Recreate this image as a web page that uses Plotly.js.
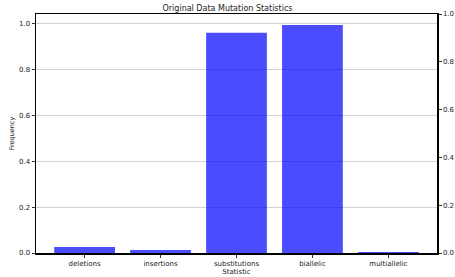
<!DOCTYPE html>
<html><head><meta charset="utf-8">
<script src="https://cdn.plot.ly/plotly-3.0.1.min.js"></script>
<style>html,body{margin:0;padding:0;background:#fff}#c{width:455px;height:277px}</style>
</head><body><div id="c"></div>
<script>
const categories = ["deletions","insertions","substitutions","biallelic","multiallelic"];
const frequencies = [0.026, 0.013, 0.959, 0.993, 0.004];
const tickVals = [0, 0.2, 0.4, 0.6, 0.8, 1.0];

const font = {family: "DejaVu Sans", size: 7, color: "#222"};
const data = [
  {type: "bar", x: categories, y: frequencies, width: 0.8,
   marker: {color: "rgba(0,0,255,0.7)", line: {width: 0}}, hoverinfo: "skip"},
  {type: "scatter", x: categories, y: frequencies, yaxis: "y2", mode: "markers",
   marker: {opacity: 0}, showlegend: false, hoverinfo: "skip"}
];
const layout = {
  width: 455, height: 277,
  margin: {l: 36, r: 18, t: 14, b: 24},
  paper_bgcolor: "#fff", plot_bgcolor: "#fff",
  showlegend: false,
  font: font,
  title: {text: "Original Data Mutation Statistics", font: {family: "DejaVu Sans", size: 8, color: "#222"},
          x: 0.5, xanchor: "center", yref: "container", y: 0.972, yanchor: "middle"},
  xaxis: {range: [-0.64, 4.64], showgrid: false, zeroline: false,
          ticks: "outside", ticklen: 3, tickwidth: 0.8, tickcolor: "#000",
          showline: true, linecolor: "#000", linewidth: 1.5, mirror: true,
          tickfont: font,
          title: {text: "Statistic", font: font, standoff: 1}},
  yaxis: {range: [0, 1.041], tickvals: tickVals, tickformat: ".1f",
          showgrid: true, gridcolor: "#c8c8c8", gridwidth: 0.8, zeroline: false,
          ticks: "outside", ticklen: 3, tickwidth: 0.8, tickcolor: "#000",
          showline: true, linecolor: "#000", linewidth: 1.5,
          tickfont: font,
          title: {text: "Frequency", font: {family: "DejaVu Sans", size: 6.5, color: "#222"}, standoff: 3}},
  yaxis2: {overlaying: "y", side: "right", range: [0, 1], tickvals: tickVals, tickformat: ".1f",
           showgrid: false, zeroline: false,
           ticks: "outside", ticklen: 3, tickwidth: 0.8, tickcolor: "#000",
           showline: true, linecolor: "#000", linewidth: 1.5,
           tickfont: font}
};
Plotly.newPlot("c", data, layout, {displayModeBar: false, staticPlot: true});
</script></body></html>
